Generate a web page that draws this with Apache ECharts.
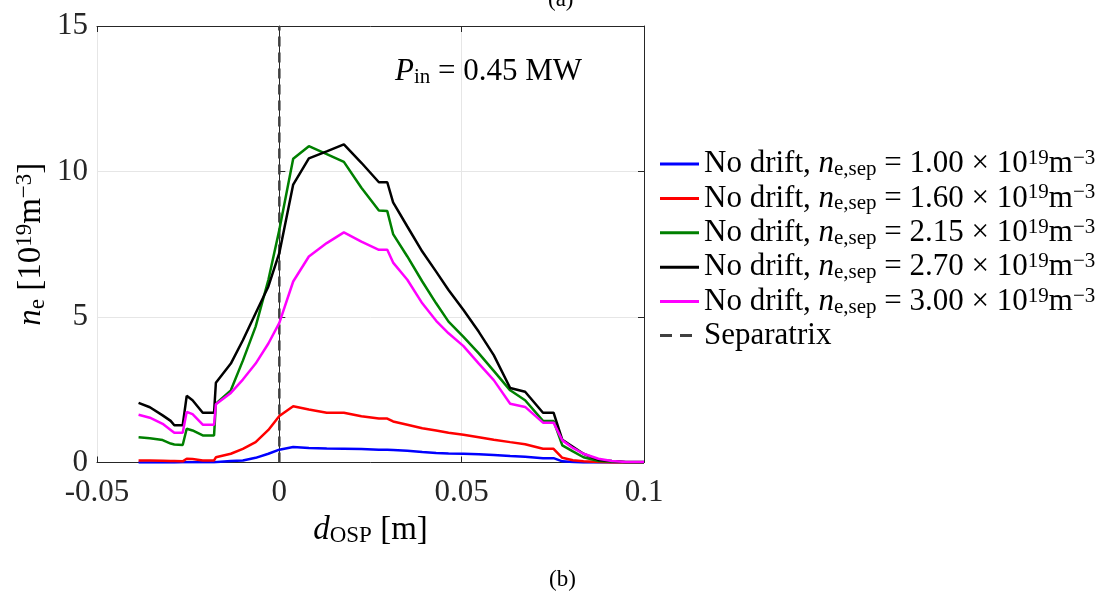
<!DOCTYPE html>
<html>
<head>
<meta charset="utf-8">
<script src="https://cdn.jsdelivr.net/npm/echarts@6/dist/echarts.min.js"></script>
<style>
html,body{margin:0;padding:0;background:#fff;}
#chart{width:1109px;height:593px;}
</style>
</head>
<body>
<div id="chart"></div>
<script>
// d_OSP positions [m]
const xValues = [-0.0386, -0.0355, -0.0320, -0.0298, -0.0288, -0.0265, -0.0254, -0.0238, -0.0210, -0.0179, -0.0174, -0.0133, -0.0100, -0.0065, -0.0030, 0.0000, 0.0038, 0.0081, 0.0130, 0.0177, 0.0225, 0.0273, 0.0296, 0.0312, 0.0351, 0.0392, 0.0430, 0.0464, 0.0505, 0.0547, 0.0588, 0.0633, 0.0674, 0.0723, 0.0752, 0.0776, 0.0805, 0.0834, 0.0875, 0.0912, 0.0950, 0.1000];

// n_e [1e19 m^-3] for each separatrix density
const ne100 = [0.0, 0.0, 0.0, 0.0, 0.0, 0.01, 0.01, 0.01, 0.01, 0.01, 0.02, 0.05, 0.07, 0.16, 0.30, 0.44, 0.53, 0.50, 0.48, 0.47, 0.46, 0.44, 0.44, 0.43, 0.40, 0.36, 0.33, 0.31, 0.30, 0.28, 0.26, 0.22, 0.20, 0.15, 0.15, 0.04, 0.02, 0.0, 0.0, 0.0, 0.0, 0.0];
const ne160 = [0.07, 0.07, 0.06, 0.05, 0.05, 0.04, 0.13, 0.12, 0.07, 0.07, 0.18, 0.30, 0.47, 0.70, 1.12, 1.60, 1.93, 1.82, 1.71, 1.71, 1.59, 1.51, 1.51, 1.41, 1.30, 1.18, 1.10, 1.02, 0.95, 0.87, 0.78, 0.70, 0.63, 0.47, 0.47, 0.16, 0.08, 0.04, 0.02, 0.0, 0.0, 0.0];
const ne215 = [0.87, 0.83, 0.77, 0.65, 0.62, 0.60, 1.16, 1.10, 0.93, 0.93, 2.02, 2.48, 3.50, 4.67, 6.28, 8.00, 10.44, 10.87, 10.60, 10.33, 9.44, 8.66, 8.64, 7.85, 7.08, 6.22, 5.47, 4.84, 4.32, 3.75, 3.15, 2.48, 2.14, 1.43, 1.43, 0.59, 0.38, 0.18, 0.05, 0.03, 0.01, 0.0];
const ne270 = [2.05, 1.90, 1.62, 1.43, 1.28, 1.28, 2.29, 2.14, 1.71, 1.71, 2.74, 3.40, 4.20, 5.13, 6.05, 7.20, 9.55, 10.45, 10.69, 10.93, 10.30, 9.63, 9.63, 8.94, 8.11, 7.25, 6.56, 5.93, 5.24, 4.49, 3.69, 2.56, 2.43, 1.71, 1.71, 0.78, 0.54, 0.30, 0.09, 0.05, 0.02, 0.02];
const ne300 = [1.64, 1.54, 1.33, 1.12, 1.02, 1.02, 1.74, 1.66, 1.30, 1.30, 2.00, 2.39, 2.85, 3.40, 4.09, 4.80, 6.22, 7.08, 7.54, 7.91, 7.59, 7.31, 7.31, 6.87, 6.28, 5.47, 4.87, 4.44, 4.00, 3.40, 2.83, 2.02, 1.91, 1.37, 1.37, 0.76, 0.50, 0.30, 0.13, 0.05, 0.02, 0.02];

const sepLabels = ['1.00', '1.60', '2.15', '2.70', '3.00'];
const seriesValues = [ne100, ne160, ne215, ne270, ne300];
const seriesColors = ['#0000ff', '#ff0000', '#008000', '#000000', '#ff00ff'];

const separatrixX = [0, 0];
const separatrixY = [0, 15];

const xTickLabels = ['-0.05', '0', '0.05', '0.1'];
const yTickLabels = ['0', '5', '10', '15'];

const SERIF = 'Liberation Serif';
const FS = 31;

function makeRich(fs, sfs, lh) {
  return {
    t:   { fontFamily: SERIF, fontSize: fs, lineHeight: lh, color: '#000', verticalAlign: 'middle' },
    i:   { fontFamily: SERIF, fontSize: fs, fontStyle: 'italic', lineHeight: lh, color: '#000', verticalAlign: 'middle' },
    sub: { fontFamily: SERIF, fontSize: sfs, lineHeight: Math.round(lh * 0.56), color: '#000', verticalAlign: 'bottom' },
    sup: { fontFamily: SERIF, fontSize: sfs, lineHeight: Math.round(lh * 0.56), color: '#000', verticalAlign: 'top' }
  };
}
const richLegend = makeRich(31, 21, 32);
const richTitle = makeRich(33, 23, 36);

const names = sepLabels.map(v => 'No drift, ne,sep = ' + v + ' × 10^19 m^-3');

const series = seriesValues.map((vals, k) => ({
  name: names[k],
  type: 'line',
  showSymbol: false,
  symbol: 'none',
  data: xValues.map((x, i) => [x, vals[i]]),
  lineStyle: { color: seriesColors[k], width: 2.5 },
  itemStyle: { color: seriesColors[k] },
  z: 3 + k,
  animation: false
}));
series.push({
  name: 'Separatrix',
  type: 'line',
  symbol: 'none',
  data: separatrixX.map((x, i) => [x, separatrixY[i]]),
  lineStyle: { color: '#404040', width: 2.5, type: [10, 6] },
  itemStyle: { color: '#404040' },
  z: 2,
  animation: false
});

const chart = echarts.init(document.getElementById('chart'), null, { renderer: 'canvas' });

const xFmt = v => { const k = Math.round((v + 0.05) / 0.05); return xTickLabels[k] || ''; };
const yFmt = v => { const k = Math.round(v / 5); return yTickLabels[k] || ''; };

const axisLineStyle = { color: '#262626', width: 1 };

const legendData = names.map(n => ({ name: n, icon: 'rect' }));
legendData.push({ name: 'Separatrix', icon: 'path://M0,0h12v3h-12z M20,0h12v3h-12z M38.9,1.4h0.1v0.1h-0.1z' });

chart.setOption({
  animation: false,
  backgroundColor: '#fff',
  grid: { left: 97, right: 465, top: 26, bottom: 130.5, containLabel: false },
  xAxis: [{
    type: 'value', min: -0.05, max: 0.1, interval: 0.05,
    axisLine: { show: true, lineStyle: axisLineStyle },
    axisTick: { show: true, inside: true, length: 6, lineStyle: axisLineStyle },
    splitLine: { show: true, lineStyle: { color: '#e6e6e6', width: 1 } },
    axisLabel: { formatter: xFmt, fontFamily: SERIF, fontSize: FS, color: '#262626', margin: 15 },
    name: '{i|d}{sub|OSP}{t| [m]}',
    nameLocation: 'middle', nameGap: 47,
    nameTextStyle: { rich: richTitle }
  }, {
    type: 'value', position: 'top', min: -0.05, max: 0.1, interval: 0.05,
    axisLine: { show: true, onZero: false, lineStyle: axisLineStyle },
    axisTick: { show: true, inside: true, length: 6, lineStyle: axisLineStyle },
    splitLine: { show: false }, axisLabel: { show: false }
  }],
  yAxis: [{
    type: 'value', min: 0, max: 15, interval: 5,
    axisLine: { show: true, lineStyle: axisLineStyle },
    axisTick: { show: true, inside: true, length: 6, lineStyle: axisLineStyle },
    splitLine: { show: true, lineStyle: { color: '#e6e6e6', width: 1 } },
    axisLabel: { formatter: yFmt, fontFamily: SERIF, fontSize: FS, color: '#262626', margin: 9 },
    name: '{i|n}{sub|e}{t| [10}{sup|19}{t|m}{sup|−3}{t|]}',
    nameLocation: 'middle', nameGap: 48, nameRotate: 90,
    nameTextStyle: { rich: richTitle }
  }, {
    type: 'value', position: 'right', min: 0, max: 15, interval: 5,
    axisLine: { show: true, onZero: false, lineStyle: axisLineStyle },
    axisTick: { show: true, inside: true, length: 6, lineStyle: axisLineStyle },
    splitLine: { show: false }, axisLabel: { show: false }
  }],
  legend: {
    orient: 'vertical',
    left: 660, top: 148, padding: 0,
    itemWidth: 39, itemHeight: 3, itemGap: 2.4,
    data: legendData,
    formatter: name => {
      if (name === 'Separatrix') return '{t|Separatrix}';
      const k = names.indexOf(name);
      return '{t|No drift, }{i|n}{sub|e,sep}{t| = ' + sepLabels[k] + ' × 10}{sup|19}{t|m}{sup|−3}';
    },
    textStyle: { rich: richLegend },
    selectedMode: false
  },
  graphic: [{
    type: 'text', left: 395, top: 56,
    style: { text: '{i|P}{sub|in}{t| = 0.45 MW}', rich: richLegend }
  }, {
    type: 'text', left: 549, top: 568,
    style: { text: '(b)', font: '23px "Liberation Serif"', fill: '#000' }
  }, {
    type: 'text', left: 548, top: -12,
    style: { text: '(a)', font: '23px "Liberation Serif"', fill: '#000' }
  }],
  series: series
});
</script>
</body>
</html>
